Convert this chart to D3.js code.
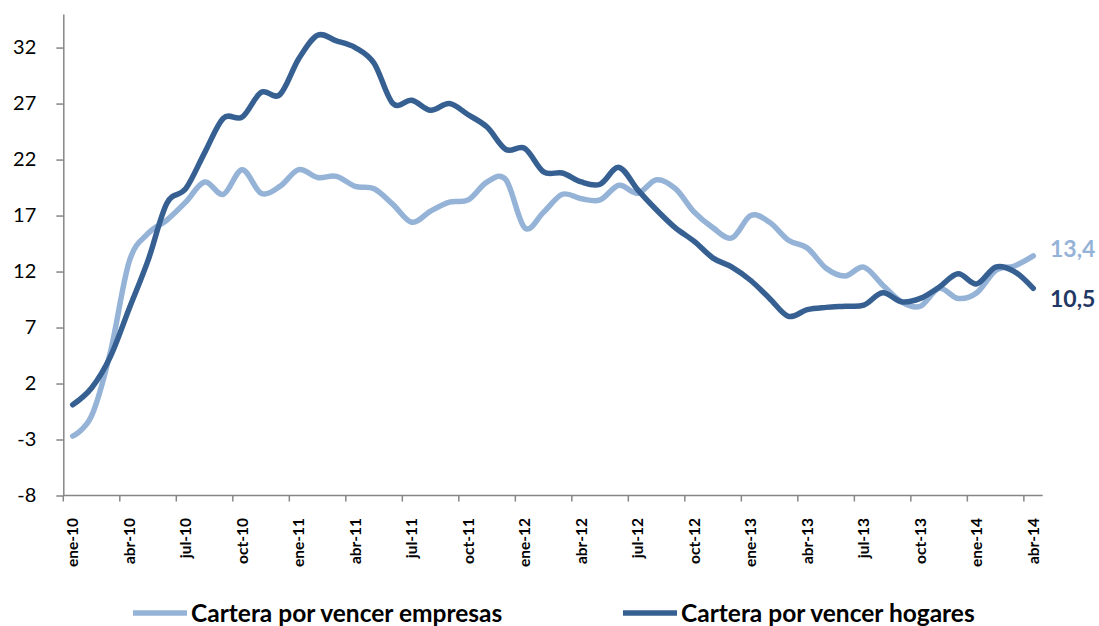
<!DOCTYPE html>
<html>
<head>
<meta charset="utf-8">
<script src="https://d3js.org/d3.v7.min.js"></script>
<style>
  body { margin: 0; background: #fff; }
  svg { display: block; font-family: Lato, "Open Sans", sans-serif; }
</style>
</head>
<body>
<div id="chart"></div>
<script>
// meses ene-10 .. abr-14
const mesesNombre = ["ene", "feb", "mar", "abr", "may", "jun", "jul", "ago", "sep", "oct", "nov", "dic"];
const months = [];
for (let a = 10; a <= 14; a++) {
    for (let m = 0; m < 12; m++) {
        if (a === 14 && m > 3) break;
        months.push(mesesNombre[m] + "-" + a);
    }
}

const empresas = [-2.7, -0.9, 4.8, 12.9, 15.4, 16.6, 18.2, 20.0, 18.9, 21.1, 19.0, 19.6,
    21.1, 20.4, 20.5, 19.6, 19.4, 18.0, 16.4, 17.4, 18.2, 18.4, 20.0, 20.2,
    15.9, 17.3, 18.9, 18.5, 18.4, 19.7, 19.0, 20.2, 19.4, 17.3, 15.9, 15.0,
    17.0, 16.4, 14.8, 14.1, 12.3, 11.6, 12.4, 10.8, 9.3, 8.9, 10.5, 9.6,
    10.1, 12.1, 12.5, 13.4];

const hogares = [0.1, 1.6, 4.4, 8.7, 13.0, 18.1, 19.4, 22.6, 25.7, 25.8, 28.0, 27.8,
    31.0, 33.1, 32.6, 32.0, 30.6, 27.0, 27.3, 26.4, 27.0, 26.0, 24.9, 22.9,
    23.0, 20.9, 20.8, 20.0, 19.8, 21.3, 19.3, 17.5, 15.9, 14.7, 13.2, 12.4,
    11.2, 9.6, 8.0, 8.6, 8.8, 8.9, 9.0, 10.1, 9.3, 9.6, 10.6, 11.8,
    10.9, 12.4, 12.0, 10.5];

const yTicks = [-8, -3, 2, 7, 12, 17, 22, 27, 32];
const series = [
    {name: "Cartera por vencer empresas", values: empresas, color: "#95B3D7", labelColor: "#95B3D7", label: "13,4"},
    {name: "Cartera por vencer hogares", values: hogares, color: "#376092", labelColor: "#1F3864", label: "10,5"}
];

const width = 1099, height = 626;
const svg = d3.select("#chart").append("svg").attr("width", width).attr("height", height);

const x = d3.scaleBand().domain(months).range([63.3, 1042.7]).padding(0);
const y = d3.scaleLinear().domain([-8, 35]).range([495.5, 14]);
const cx = d => x(d) + x.bandwidth() / 2;

// eje y
const yAxis = svg.append("g").attr("transform", "translate(63.3,0)")
    .call(d3.axisLeft(y).tickValues(yTicks).tickFormat(d => String(d)).tickSize(7).tickPadding(20).tickSizeOuter(0));
yAxis.select(".domain").attr("stroke", "#868686").attr("stroke-width", 1.5);
yAxis.selectAll(".tick line").attr("stroke", "#868686").attr("stroke-width", 1.5);
yAxis.selectAll(".tick text").attr("font-size", 20).attr("fill", "#000").attr("font-family", "Lato");

// eje x: marcas cada 3 meses en los bordes de la categoria
const tickMonths = months.filter((d, i) => i % 3 === 0);
const xg = svg.append("g").attr("transform", "translate(0,495.5)");
xg.append("line").attr("x1", 63.3).attr("x2", 1042.7).attr("stroke", "#868686").attr("stroke-width", 1.5);
xg.selectAll("line.tk").data(tickMonths).join("line").attr("class", "tk")
    .attr("x1", d => x(d)).attr("x2", d => x(d)).attr("y1", 0).attr("y2", 6)
    .attr("stroke", "#868686").attr("stroke-width", 1.5);
svg.append("g").selectAll("text").data(tickMonths).join("text")
    .attr("transform", d => `translate(${cx(d)},518) rotate(-90)`)
    .attr("text-anchor", "end").attr("dy", "0.35em")
    .attr("font-size", 15.5).attr("font-weight", "bold").attr("fill", "#000")
    .text(d => d);

// lineas
const line = d3.line().x((d, i) => cx(months[i])).y(d => y(d)).curve(d3.curveCardinal.tension(0));
svg.append("g").selectAll("path").data(series).join("path")
    .attr("d", d => line(d.values)).attr("fill", "none")
    .attr("stroke", d => d.color).attr("stroke-width", 5.5)
    .attr("stroke-linecap", "round").attr("stroke-linejoin", "round");

// etiquetas finales
svg.append("text").attr("x", 1050).attr("y", 257).attr("font-size", 23).attr("font-weight", "bold")
    .attr("fill", series[0].labelColor).text(series[0].label);
svg.append("text").attr("x", 1050).attr("y", 307).attr("font-size", 23).attr("font-weight", "bold")
    .attr("fill", series[1].labelColor).text(series[1].label);

// leyenda
const legX = [133, 623];
const leg = svg.append("g").selectAll("g").data(series).join("g")
    .attr("transform", (d, i) => `translate(${legX[i]},613)`);
leg.append("line").attr("x1", 0).attr("x2", 54).attr("stroke", d => d.color).attr("stroke-width", 5.5);
leg.append("text").attr("x", 58).attr("y", 8.5).attr("font-size", 24.5).attr("font-weight", "bold")
    .attr("fill", "#000").text(d => d.name);
</script>
</body>
</html>
